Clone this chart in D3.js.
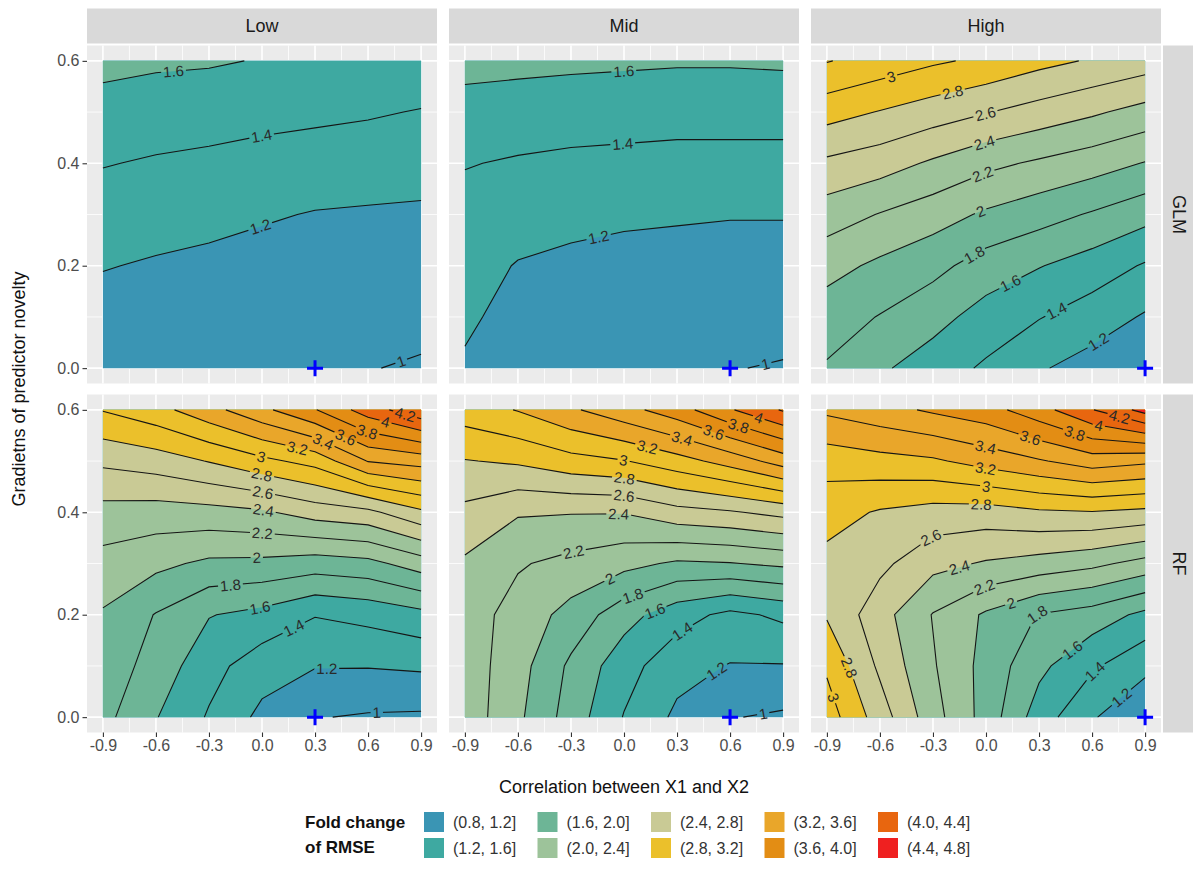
<!DOCTYPE html>
<html>
<head>
<meta charset="utf-8">
<script src="https://cdn.jsdelivr.net/npm/d3@7"></script>
<style>
  body { margin: 0; background: #fff; }
  svg text { font-family: "Liberation Sans", Arial, sans-serif; }
</style>
</head>
<body>
<svg id="chart" width="1193" height="881"></svg>
<script>
// facets
const noveltyLevels = ['Low', 'Mid', 'High'];
const models = ['GLM', 'RF'];

// grid the surfaces were read on
const correlations = [-0.9, -0.6, -0.3, 0, 0.3, 0.6, 0.9];
const gradients = [0, 0.1, 0.2, 0.3, 0.4, 0.5, 0.6];

// fold change of RMSE: one row per gradient (0.0 first), one column per correlation
const glmLow = [
  [1.05, 1.04, 1.03, 1.02, 1.015, 1.005, 0.985],
  [1.12, 1.10, 1.09, 1.07, 1.06, 1.05, 1.04],
  [1.21, 1.18, 1.16, 1.13, 1.12, 1.11, 1.10],
  [1.30, 1.28, 1.25, 1.22, 1.19, 1.18, 1.17],
  [1.41, 1.38, 1.36, 1.33, 1.31, 1.29, 1.28],
  [1.52, 1.50, 1.48, 1.46, 1.44, 1.42, 1.39],
  [1.66, 1.63, 1.62, 1.59, 1.57, 1.55, 1.53],
];
const glmMid = [
  [1.17, 1.06, 1.03, 1.02, 1.015, 1.005, 0.99],
  [1.24, 1.12, 1.08, 1.07, 1.06, 1.05, 1.05],
  [1.27, 1.19, 1.16, 1.14, 1.13, 1.12, 1.12],
  [1.33, 1.28, 1.25, 1.23, 1.22, 1.21, 1.21],
  [1.41, 1.38, 1.36, 1.35, 1.34, 1.34, 1.34],
  [1.53, 1.51, 1.49, 1.48, 1.47, 1.47, 1.47],
  [1.66, 1.65, 1.64, 1.63, 1.62, 1.62, 1.63],
];
const glmHigh = [
  [1.78, 1.63, 1.50, 1.37, 1.22, 1.12, 1.03],
  [1.90, 1.79, 1.67, 1.52, 1.41, 1.30, 1.18],
  [2.07, 1.96, 1.86, 1.71, 1.61, 1.51, 1.38],
  [2.30, 2.19, 2.09, 1.97, 1.88, 1.78, 1.67],
  [2.56, 2.49, 2.37, 2.25, 2.17, 2.09, 1.99],
  [2.88, 2.79, 2.70, 2.61, 2.52, 2.43, 2.33],
  [3.21, 3.12, 3.03, 2.96, 2.86, 2.78, 2.70],
];
const rfLow = [
  [1.86, 1.61, 1.38, 1.15, 1.01, 0.98, 0.97],
  [1.92, 1.72, 1.47, 1.29, 1.21, 1.21, 1.23],
  [1.98, 1.79, 1.61, 1.54, 1.41, 1.46, 1.54],
  [2.13, 2.05, 1.96, 1.95, 1.90, 1.94, 2.10],
  [2.33, 2.31, 2.33, 2.37, 2.49, 2.55, 2.76],
  [2.64, 2.70, 2.81, 2.95, 3.07, 3.41, 3.48],
  [3.01, 3.13, 3.33, 3.55, 3.79, 4.10, 4.35],
];
const rfMid = [
  [2.32, 2.04, 1.71, 1.39, 1.16, 1.01, 0.97],
  [2.31, 2.08, 1.76, 1.48, 1.27, 1.19, 1.19],
  [2.30, 2.12, 1.93, 1.68, 1.48, 1.35, 1.44],
  [2.37, 2.22, 2.14, 2.06, 1.97, 1.99, 2.04],
  [2.55, 2.42, 2.41, 2.41, 2.53, 2.58, 2.66],
  [2.79, 2.83, 2.93, 2.99, 3.12, 3.28, 3.49],
  [3.10, 3.21, 3.37, 3.53, 3.71, 3.98, 4.22],
];
const rfHigh = [
  [3.10, 2.70, 2.28, 1.92, 1.50, 1.22, 1.03],
  [2.97, 2.56, 2.22, 1.93, 1.65, 1.43, 1.25],
  [2.78, 2.48, 2.19, 1.97, 1.79, 1.71, 1.55],
  [2.74, 2.65, 2.46, 2.38, 2.32, 2.25, 2.13],
  [2.88, 2.78, 2.72, 2.71, 2.77, 2.79, 2.75],
  [3.08, 3.13, 3.17, 3.28, 3.38, 3.50, 3.44],
  [3.44, 3.53, 3.63, 3.72, 3.92, 4.19, 4.47],
];

// correlation of the training data (blue cross), per novelty level
const trainingCorrelation = [0.3, 0.6, 0.9];

const bandBreaks = [0.8, 1.2, 1.6, 2.0, 2.4, 2.8, 3.2, 3.6, 4.0, 4.4, 4.8];
const bandColors = ['#3a95b4', '#3ea9a1', '#6db596', '#9dc39a', '#c9ca95',
  '#ebc02b', '#e9a62a', '#e38d14', '#e8660f', '#ef2020'];
const lineLevels = [1.0, 1.2, 1.4, 1.6, 1.8, 2.0, 2.2, 2.4, 2.6, 2.8, 3.0,
  3.2, 3.4, 3.6, 3.8, 4.0, 4.2, 4.4];

const xTicks = [-0.9, -0.6, -0.3, 0, 0.3, 0.6, 0.9];
const yTicks = [0, 0.2, 0.4, 0.6];

const surfaces = {
  GLM: [glmLow, glmMid, glmHigh],
  RF: [rfLow, rfMid, rfHigh],
};

const svg = d3.select('#chart');
const panelX = [87, 449, 811];
const panelY = [45.5, 394.5];
const panelW = 350;
const panelH = 338;
const nx = correlations.length;
const ny = gradients.length;

const fmt = d => d.toFixed(1);
const levelText = v => String(+v.toFixed(1));
const contourGen = d3.contours().size([nx, ny]);

// d3.contours puts sample i at i + 0.5
const gx = d3.scaleLinear().domain([0.5, nx - 0.5]).range([correlations[0], correlations[nx - 1]]);
const gy = d3.scaleLinear().domain([0.5, ny - 0.5]).range([gradients[0], gradients[ny - 1]]);
const eps = 1e-6;
const inside = ([a, b]) => a >= 0.5 - eps && a <= nx - 0.5 + eps && b >= 0.5 - eps && b <= ny - 0.5 + eps;

function scalesFor(r, c) {
  const x = d3.scaleLinear().domain([-0.99, 0.99]).range([panelX[c], panelX[c] + panelW]);
  const y = d3.scaleLinear().domain([-0.03, 0.63]).range([panelY[r] + panelH, panelY[r]]);
  return { x, y };
}

// keep only the stretches of a contour ring that lie inside the sampled area
function interiorRuns(ring) {
  const pts = ring.slice();
  const f = pts[0];
  const l = pts[pts.length - 1];
  if (f[0] === l[0] && f[1] === l[1]) pts.pop();
  const n = pts.length;
  const start = pts.findIndex(p => !inside(p));
  if (start < 0) return [pts.concat([pts[0]])];
  const runs = [];
  let cur = [];
  for (let k = 1; k <= n; k += 1) {
    const p = pts[(start + k) % n];
    if (inside(p)) cur.push(p);
    else {
      if (cur.length > 1) runs.push(cur);
      cur = [];
    }
  }
  if (cur.length > 1) runs.push(cur);
  return runs;
}

function labelSpot(pts) {
  const cum = [0];
  for (let i = 1; i < pts.length; i += 1) {
    cum.push(cum[i - 1] + Math.hypot(pts[i][0] - pts[i - 1][0], pts[i][1] - pts[i - 1][1]));
  }
  const total = cum[cum.length - 1];
  const at = (s) => {
    let i = d3.bisectLeft(cum, s);
    i = Math.max(1, Math.min(pts.length - 1, i));
    const t = (s - cum[i - 1]) / ((cum[i] - cum[i - 1]) || 1);
    return [pts[i - 1][0] + t * (pts[i][0] - pts[i - 1][0]),
      pts[i - 1][1] + t * (pts[i][1] - pts[i - 1][1])];
  };
  const mid = at(total / 2);
  const a = at(Math.max(0, total / 2 - 10));
  const b = at(Math.min(total, total / 2 + 10));
  let ang = Math.atan2(b[1] - a[1], b[0] - a[0]) * 180 / Math.PI;
  if (ang > 90) ang -= 180;
  if (ang < -90) ang += 180;
  return { total, mid, ang };
}

function drawPanel(model, r, c) {
  const values = surfaces[model][c].flat();
  const { x, y } = scalesFor(r, c);
  const id = `p${r}${c}`;
  const project = d3.geoTransform({
    point(px, py) { this.stream.point(x(gx(px)), y(gy(py))); },
  });
  const path = d3.geoPath(project);
  const g = svg.append('g').attr('class', 'panel');

  g.append('rect')
    .attr('x', panelX[c]).attr('y', panelY[r])
    .attr('width', panelW).attr('height', panelH)
    .attr('fill', '#ebebeb');

  const xMinor = d3.pairs(xTicks, (a, b) => (a + b) / 2);
  const yMinor = d3.pairs(yTicks, (a, b) => (a + b) / 2);
  const grid = g.append('g').attr('stroke', '#fff').attr('fill', 'none');
  grid.selectAll('.vminor').data(xMinor).join('line').attr('class', 'vminor')
    .attr('x1', d => x(d)).attr('x2', d => x(d))
    .attr('y1', panelY[r]).attr('y2', panelY[r] + panelH).attr('stroke-width', 0.8);
  grid.selectAll('.hminor').data(yMinor).join('line').attr('class', 'hminor')
    .attr('y1', d => y(d)).attr('y2', d => y(d))
    .attr('x1', panelX[c]).attr('x2', panelX[c] + panelW).attr('stroke-width', 0.8);
  grid.selectAll('.vmajor').data(xTicks).join('line').attr('class', 'vmajor')
    .attr('x1', d => x(d)).attr('x2', d => x(d))
    .attr('y1', panelY[r]).attr('y2', panelY[r] + panelH).attr('stroke-width', 1.6);
  grid.selectAll('.hmajor').data(yTicks).join('line').attr('class', 'hmajor')
    .attr('y1', d => y(d)).attr('y2', d => y(d))
    .attr('x1', panelX[c]).attr('x2', panelX[c] + panelW).attr('stroke-width', 1.6);

  g.append('clipPath').attr('id', `clip-${id}`)
    .append('rect')
    .attr('x', x(-0.9)).attr('y', y(0.6))
    .attr('width', x(0.9) - x(-0.9)).attr('height', y(0) - y(0.6));

  g.append('g').attr('clip-path', `url(#clip-${id})`)
    .selectAll('path')
    .data(bandBreaks.slice(0, -1))
    .join('path')
    .attr('d', t => path(contourGen.contour(values, t)))
    .attr('fill', (t, i) => bandColors[i]);

  const toPx = ([a, b]) => [x(gx(a)), y(gy(b))];
  const pieces = [];
  lineLevels.forEach((level) => {
    const mp = contourGen.contour(values, level);
    mp.coordinates.forEach(poly => poly.forEach((ring) => {
      interiorRuns(ring).forEach(run => pieces.push({ level, pts: run.map(toPx) }));
    }));
  });

  const mask = g.append('mask').attr('id', `mask-${id}`)
    .attr('maskUnits', 'userSpaceOnUse')
    .attr('x', panelX[c] - 5).attr('y', panelY[r] - 5)
    .attr('width', panelW + 10).attr('height', panelH + 10);
  mask.append('rect')
    .attr('x', panelX[c] - 5).attr('y', panelY[r] - 5)
    .attr('width', panelW + 10).attr('height', panelH + 10)
    .attr('fill', '#fff');

  g.append('g').attr('mask', `url(#mask-${id})`)
    .selectAll('path')
    .data(pieces)
    .join('path')
    .attr('d', p => d3.line()(p.pts))
    .attr('fill', 'none')
    .attr('stroke', '#151515')
    .attr('stroke-width', 1.1);

  const labels = g.append('g');
  pieces.forEach((p) => {
    const spot = labelSpot(p.pts);
    if (spot.total < 30) return;
    const tf = `translate(${spot.mid[0]},${spot.mid[1]}) rotate(${spot.ang})`;
    const t = labels.append('text')
      .attr('transform', tf)
      .attr('text-anchor', 'middle')
      .attr('dominant-baseline', 'central')
      .attr('font-size', 15)
      .attr('fill', '#2a2a2a')
      .text(levelText(p.level));
    const w = t.node().getComputedTextLength();
    mask.append('rect')
      .attr('transform', tf)
      .attr('x', -w / 2 - 2).attr('y', -7)
      .attr('width', w + 4).attr('height', 14)
      .attr('fill', '#000');
  });

  g.append('path')
    .attr('transform', `translate(${x(trainingCorrelation[c])},${y(0)})`)
    .attr('d', 'M-8,0H8M0,-8V8')
    .attr('stroke', '#0000ff')
    .attr('stroke-width', 3)
    .attr('fill', 'none');
}

function styleAxis(sel) {
  sel.attr('font-size', 16).attr('font-family', '"Liberation Sans", Arial, sans-serif');
  sel.select('.domain').remove();
  sel.selectAll('.tick line').attr('stroke', '#333').attr('stroke-width', 1.1);
  sel.selectAll('.tick text').attr('fill', '#4d4d4d');
}

models.forEach((model, r) => {
  noveltyLevels.forEach((level, c) => drawPanel(model, r, c));
});

// top strips
noveltyLevels.forEach((level, c) => {
  svg.append('rect')
    .attr('x', panelX[c]).attr('y', 8.5)
    .attr('width', panelW).attr('height', 35)
    .attr('fill', '#d9d9d9');
  svg.append('text')
    .attr('x', panelX[c] + panelW / 2).attr('y', 26)
    .attr('text-anchor', 'middle').attr('dominant-baseline', 'central')
    .attr('font-size', 18).attr('fill', '#1a1a1a')
    .text(level);
});

// right strips
models.forEach((model, r) => {
  svg.append('rect')
    .attr('x', 1163).attr('y', panelY[r])
    .attr('width', 34).attr('height', panelH)
    .attr('fill', '#d9d9d9');
  svg.append('text')
    .attr('transform', `translate(1179,${panelY[r] + panelH / 2}) rotate(90)`)
    .attr('text-anchor', 'middle').attr('dominant-baseline', 'central')
    .attr('font-size', 18).attr('fill', '#1a1a1a')
    .text(model);
});

// axes
noveltyLevels.forEach((level, c) => {
  const { x } = scalesFor(1, c);
  svg.append('g')
    .attr('transform', `translate(0,${panelY[1] + panelH})`)
    .call(d3.axisBottom(x).tickValues(xTicks).tickFormat(fmt).tickSize(4.5).tickPadding(3))
    .call(styleAxis);
});
models.forEach((model, r) => {
  const { y } = scalesFor(r, 0);
  svg.append('g')
    .attr('transform', `translate(${panelX[0]},0)`)
    .call(d3.axisLeft(y).tickValues(yTicks).tickFormat(fmt).tickSize(4.5).tickPadding(3))
    .call(styleAxis);
});

svg.append('text')
  .attr('x', (panelX[0] + panelX[2] + panelW) / 2).attr('y', 793)
  .attr('text-anchor', 'middle')
  .attr('font-size', 18).attr('fill', '#111')
  .text('Correlation between X1 and X2');

svg.append('text')
  .attr('transform', `translate(19,${(panelY[0] + panelY[1] + panelH) / 2}) rotate(-90)`)
  .attr('text-anchor', 'middle').attr('dominant-baseline', 'central')
  .attr('font-size', 18).attr('fill', '#111')
  .text('Gradietns of predictor novelty');

// legend
const legend = svg.append('g');
legend.append('text')
  .attr('x', 305).attr('y', 828)
  .attr('font-size', 17).attr('font-weight', 'bold').attr('fill', '#111')
  .text('Fold change');
legend.append('text')
  .attr('x', 305).attr('y', 853)
  .attr('font-size', 17).attr('font-weight', 'bold').attr('fill', '#111')
  .text('of RMSE');

const bands = bandColors.map((color, i) => ({
  color,
  label: `(${bandBreaks[i].toFixed(1)}, ${bandBreaks[i + 1].toFixed(1)}]`,
  col: Math.floor(i / 2),
  row: i % 2,
}));
const entry = legend.selectAll('.entry').data(bands).join('g')
  .attr('class', 'entry')
  .attr('transform', d => `translate(${424 + d.col * 113.5},${812 + d.row * 26})`);
entry.append('rect')
  .attr('width', 20).attr('height', 20)
  .attr('fill', d => d.color);
entry.append('text')
  .attr('x', 29).attr('y', 10)
  .attr('dominant-baseline', 'central')
  .attr('font-size', 16).attr('fill', '#333')
  .text(d => d.label);
</script>
</body>
</html>
